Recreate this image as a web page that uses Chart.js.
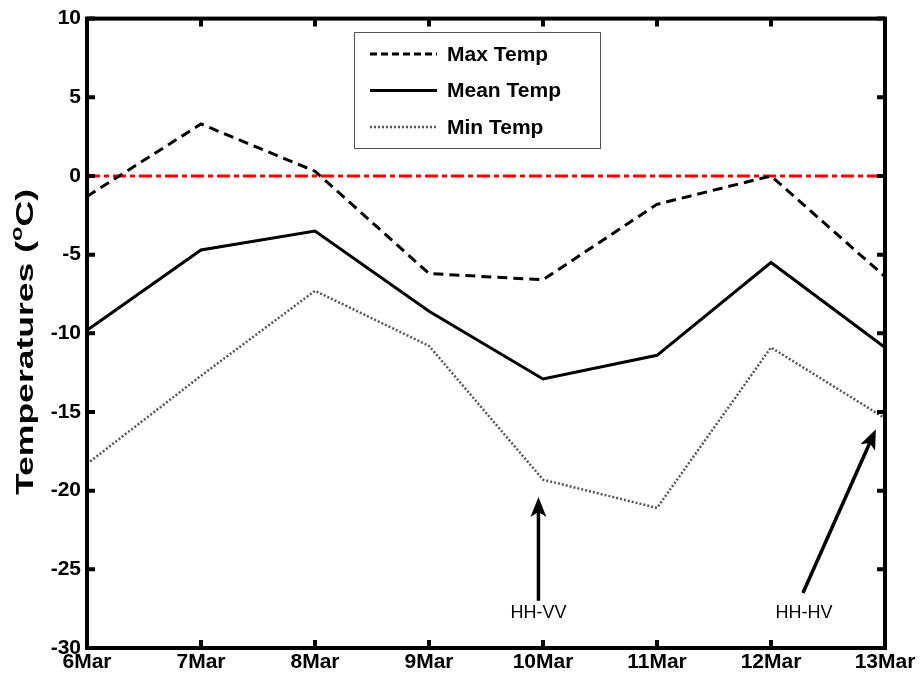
<!DOCTYPE html>
<html lang="en">
<head>
    <meta charset="UTF-8">
    <title>Temperatures</title>
    <style>
        body { margin: 0; background: #FFFFFF; }
        .chart-container { position: relative; width: 920px; height: 679px; }
    </style>
</head>
<body>
    <div class="chart-container">
        <canvas id="tempChart" width="920" height="679"></canvas>
    </div>

    <script src="https://cdn.jsdelivr.net/npm/chart.js"></script>
    <script>
        // Data
        const days = ['6Mar', '7Mar', '8Mar', '9Mar', '10Mar', '11Mar', '12Mar', '13Mar'];
        const maxTemp = [-1.3, 3.3, 0.3, -6.2, -6.6, -1.8, 0.0, -6.4];
        const meanTemp = [-9.8, -4.7, -3.5, -8.6, -12.9, -11.4, -5.5, -10.9];
        const minTemp = [-18.3, -12.7, -7.3, -10.8, -19.3, -21.1, -10.9, -15.4];
        const zeroLine = days.map(() => 0);
        const yTicks = [-30, -25, -20, -15, -10, -5, 0, 5, 10];

        // Arrow annotations in data units: [x index, y]
        const arrowLabels = ['HH-VV', 'HH-HV'];
        const arrowFrom = [[3.96, -27.0], [6.28, -26.5]];
        const arrowTo = [[3.96, -20.4], [6.92, -16.1]];

        const FONT = 'Arial, "Liberation Sans", sans-serif';

        // Box, inward ticks on all sides, y title
        const framePlugin = {
            id: 'frame',
            afterDatasetsDraw(chart) {
                const ctx = chart.ctx;
                const a = chart.chartArea;
                const xs = chart.scales.x, ys = chart.scales.y;
                ctx.save();
                ctx.strokeStyle = '#000';
                ctx.lineWidth = 4;
                ctx.strokeRect(a.left, a.top, a.right - a.left, a.bottom - a.top);
                ctx.lineWidth = 4;
                const tl = 8;
                days.forEach((d, i) => {
                    const px = xs.getPixelForValue(i);
                    ctx.beginPath();
                    ctx.moveTo(px, a.bottom); ctx.lineTo(px, a.bottom - tl);
                    ctx.moveTo(px, a.top); ctx.lineTo(px, a.top + tl);
                    ctx.stroke();
                });
                yTicks.forEach(v => {
                    const py = ys.getPixelForValue(v);
                    ctx.beginPath();
                    ctx.moveTo(a.left, py); ctx.lineTo(a.left + tl, py);
                    ctx.moveTo(a.right, py); ctx.lineTo(a.right - tl, py);
                    ctx.stroke();
                });

                // y axis title with superscript o, stretched along its length like the original
                ctx.translate(26, 342);
                ctx.rotate(-Math.PI / 2);
                ctx.fillStyle = '#000';
                ctx.textBaseline = 'middle';
                const big = 'bold 24px ' + FONT, small = 'bold 16px ' + FONT;
                const p1 = 'Temperatures (', p2 = 'o', p3 = 'C)';
                ctx.font = big; const w1 = ctx.measureText(p1).width, w3 = ctx.measureText(p3).width;
                ctx.font = small; const w2 = ctx.measureText(p2).width;
                const total = w1 + w2 + w3;
                ctx.scale(306 / total, 1);
                let x0 = -total / 2;
                ctx.textAlign = 'left';
                ctx.font = big; ctx.fillText(p1, x0, 0);
                ctx.font = small; ctx.fillText(p2, x0 + w1, -8);
                ctx.font = big; ctx.fillText(p3, x0 + w1 + w2, 0);
                ctx.restore();
            }
        };

        // Legend box with line samples
        const legendPlugin = {
            id: 'customLegend',
            afterDatasetsDraw(chart) {
                const ctx = chart.ctx;
                ctx.save();
                const bx = 354, by = 32, bw = 246, bh = 116;
                ctx.fillStyle = '#fff';
                ctx.fillRect(bx, by, bw, bh);
                ctx.strokeStyle = '#555';
                ctx.lineWidth = 1;
                ctx.strokeRect(bx + 0.5, by + 0.5, bw, bh);
                chart.data.datasets.slice(0, 3).forEach((ds, i) => {
                    const y = by + 22 + i * 36.5;
                    ctx.strokeStyle = ds.borderColor;
                    ctx.lineWidth = ds.borderWidth;
                    ctx.setLineDash(i === 0 ? [7, 4] : (ds.borderDash || []));
                    ctx.beginPath();
                    ctx.moveTo(370, y); ctx.lineTo(437, y);
                    ctx.stroke();
                    ctx.setLineDash([]);
                    ctx.fillStyle = '#000';
                    ctx.font = 'bold 21px ' + FONT;
                    ctx.textBaseline = 'middle';
                    ctx.textAlign = 'left';
                    ctx.fillText(ds.label, 447, y + 1);
                });
                ctx.restore();
            }
        };

        // Arrows with labels
        const arrowPlugin = {
            id: 'arrows',
            afterDatasetsDraw(chart) {
                const ctx = chart.ctx;
                const xs = chart.scales.x, ys = chart.scales.y;
                ctx.save();
                arrowLabels.forEach((label, i) => {
                    const x1 = xs.getPixelForValue(arrowFrom[i][0]), y1 = ys.getPixelForValue(arrowFrom[i][1]);
                    const x2 = xs.getPixelForValue(arrowTo[i][0]), y2 = ys.getPixelForValue(arrowTo[i][1]);
                    const ang = Math.atan2(y2 - y1, x2 - x1);
                    const c = Math.cos(ang), s = Math.sin(ang);
                    const hl = 20, hw = 8;
                    ctx.strokeStyle = '#000';
                    ctx.fillStyle = '#000';
                    ctx.lineWidth = 3.5;
                    ctx.beginPath();
                    ctx.moveTo(x1, y1);
                    ctx.lineTo(x2 - c * hl * 0.7, y2 - s * hl * 0.7);
                    ctx.stroke();
                    ctx.beginPath();
                    ctx.moveTo(x2, y2);
                    ctx.lineTo(x2 - c * hl + s * hw, y2 - s * hl - c * hw);
                    ctx.lineTo(x2 - c * hl * 0.75, y2 - s * hl * 0.75);
                    ctx.lineTo(x2 - c * hl - s * hw, y2 - s * hl + c * hw);
                    ctx.closePath();
                    ctx.fill();
                    ctx.font = '18px ' + FONT;
                    ctx.textAlign = 'center';
                    ctx.textBaseline = 'middle';
                    ctx.fillText(label, (i === 0 ? x1 : x1 + 1), 613);
                });
                ctx.restore();
            }
        };

        const ctx = document.getElementById('tempChart').getContext('2d');
        new Chart(ctx, {
            type: 'line',
            data: {
                labels: days,
                datasets: [
                    { label: 'Max Temp', data: maxTemp, borderColor: '#000', borderWidth: 3, borderDash: [10, 6], pointRadius: 0, tension: 0 },
                    { label: 'Mean Temp', data: meanTemp, borderColor: '#000', borderWidth: 3, pointRadius: 0, tension: 0 },
                    { label: 'Min Temp', data: minTemp, borderColor: '#555', borderWidth: 2.5, borderDash: [2, 2], pointRadius: 0, tension: 0 },
                    { label: 'zero', data: zeroLine, borderColor: '#FF0000', borderWidth: 3, borderDash: [13, 4, 5, 4], pointRadius: 0, tension: 0 }
                ]
            },
            options: {
                responsive: false,
                animation: false,
                layout: { padding: { left: 0, top: 18, right: 35, bottom: 0 } },
                plugins: { legend: { display: false }, tooltip: { enabled: false } },
                scales: {
                    x: {
                        offset: false,
                        grid: { display: false, drawTicks: false },
                        border: { display: false },
                        ticks: { color: '#000', font: { family: FONT, size: 21, weight: 'bold' }, padding: 2, maxRotation: 0, autoSkip: false },
                        afterFit(scale) { scale.height = 31; }
                    },
                    y: {
                        min: -30, max: 10,
                        grid: { display: false, drawTicks: false },
                        border: { display: false },
                        ticks: { stepSize: 5, color: '#000', font: { family: FONT, size: 21, weight: 'bold' }, padding: 6 },
                        afterFit(scale) { scale.width = 87; }
                    }
                }
            },
            plugins: [framePlugin, legendPlugin, arrowPlugin]
        });
    </script>
</body>
</html>
